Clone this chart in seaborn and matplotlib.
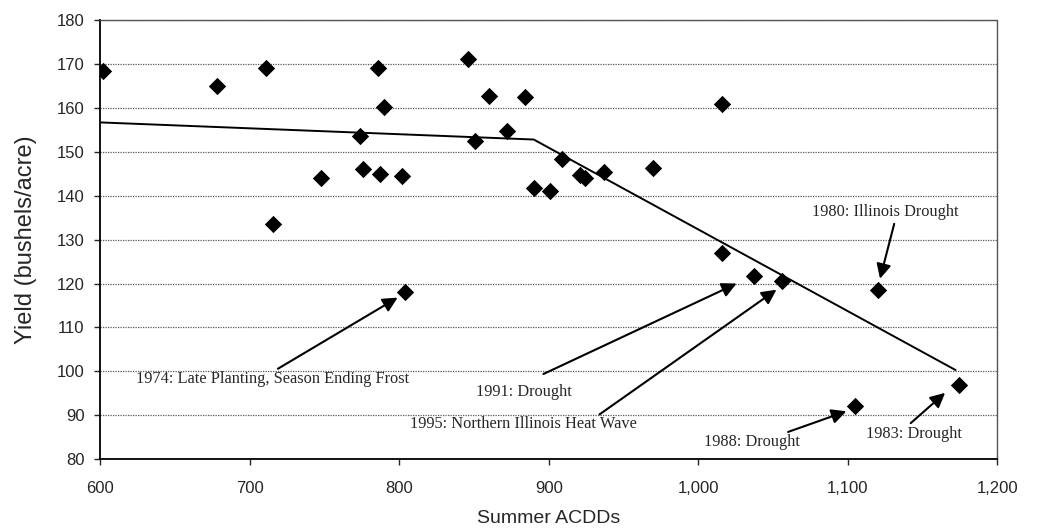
import numpy as np
import pandas as pd
import matplotlib
matplotlib.use("Agg")
import matplotlib.pyplot as plt
from matplotlib.ticker import FuncFormatter
import seaborn as sns

# Datos (ACDD de verano vs rendimiento)
acdd = [602, 678, 711, 716, 748, 774, 776, 786, 787, 790, 802, 804,
        846, 851, 860, 872, 884, 890, 901, 909, 921, 924, 937, 970,
        1016, 1016, 1037, 1056, 1105, 1120, 1174]
rendimiento = [168.5, 165.0, 169.0, 133.5, 144.0, 153.5, 146.2, 169.0, 145.0, 160.3, 144.4, 118.0,
               171.2, 152.4, 162.8, 154.7, 162.5, 141.7, 141.0, 148.4, 144.8, 144.0, 145.5, 146.4,
               161.0, 127.0, 121.8, 120.6, 92.0, 118.5, 97.0]

# Linea ajustada (tramo plano y luego descenso)
ajuste_x = [600, 890, 1172]
ajuste_y = [156.7, 152.8, 100.3]

# Anotaciones: texto, posicion del texto, cola y punta de la flecha
notas = [
    ("1974: Late Planting, Season Ending Frost", (624, 98.3), (719, 100.6), (799, 116.8)),
    ("1991: Drought", (851.5, 95.3), (896.5, 99.4), (1025.6, 120.0)),
    ("1995: Northern Illinois Heat Wave", (807.5, 87.9), (934, 90.2), (1052.3, 118.6)),
    ("1988: Drought", (1004, 83.8), (1060, 86.2), (1099, 90.9)),
    ("1983: Drought", (1112, 85.7), (1142, 88.2), (1165, 95.1)),
    ("1980: Illinois Drought", (1076, 136.2), (1131, 133.6), (1121.5, 121.1)),
]

sns.set_style("white")
plt.rcParams['font.family'] = ['Liberation Sans', 'DejaVu Sans']

df = pd.DataFrame({"acdd": acdd, "yield": rendimiento})

fig = plt.figure(figsize=(10.39, 5.29), dpi=100)
ax = fig.add_axes([0.0962, 0.132, 0.8638, 0.83])

sns.lineplot(x=ajuste_x, y=ajuste_y, ax=ax, color="black", lw=1.4, zorder=2)
sns.scatterplot(data=df, x="acdd", y="yield", ax=ax, marker="D", s=78,
                color="black", edgecolor="black", linewidth=0, zorder=3)

for texto, pos_txt, cola, punta in notas:
    ax.annotate("", xy=punta, xytext=cola,
                arrowprops=dict(arrowstyle="-|>", color="black", lw=1.5,
                                mutation_scale=22, shrinkA=0, shrinkB=0))
    ax.text(pos_txt[0], pos_txt[1], texto, family="Liberation Serif",
            fontsize=11.8, ha="left", va="center", zorder=4)

ax.set_xlim(600, 1200)
ax.set_ylim(80, 180)
ax.set_xticks(np.arange(600, 1201, 100))
ax.set_yticks(np.arange(80, 181, 10))
ax.xaxis.set_major_formatter(FuncFormatter(lambda v, p: f"{int(v):,}"))

ax.yaxis.grid(True, linestyle=(0, (1, 1)), color="#555555", lw=0.9)
ax.xaxis.grid(False)
ax.set_axisbelow(True)

for lado in ["left", "bottom"]:
    ax.spines[lado].set_color("black")
    ax.spines[lado].set_linewidth(1.3)
for lado in ["top", "right"]:
    ax.spines[lado].set_color("#555555")
    ax.spines[lado].set_linestyle((0, (1, 1)))
    ax.spines[lado].set_linewidth(1.0)

ax.tick_params(axis="y", direction="out", length=4, width=1, pad=7, labelsize=12, left=True)
ax.tick_params(axis="x", direction="out", length=4, width=1, pad=12, labelsize=12, bottom=True)

ax.set_xlabel("Summer ACDDs", fontsize=14, labelpad=10)
ax.set_ylabel("Yield (bushels/acre)", fontsize=17, labelpad=14)

plt.savefig("out.png", dpi=100)
